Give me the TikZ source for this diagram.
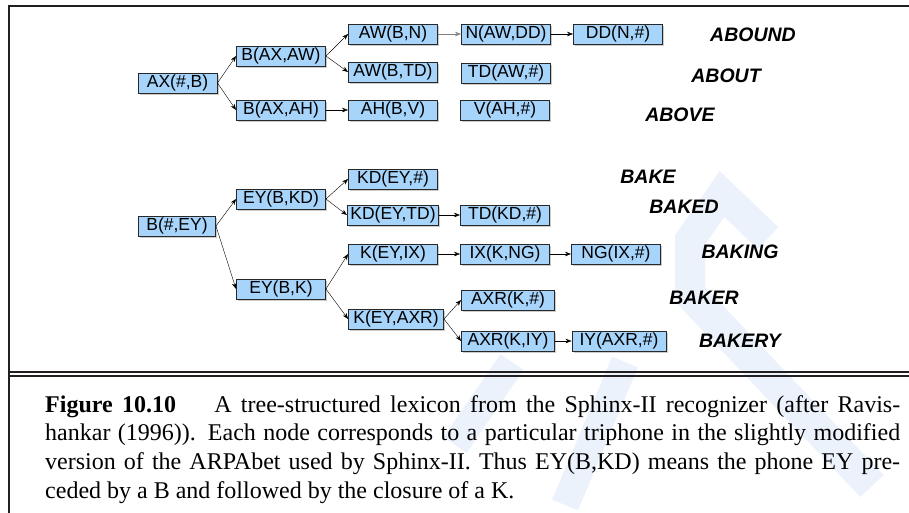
\documentclass[tikz,border=0pt]{standalone}
\usepackage{fontspec}
\setmainfont{Liberation Serif}
\setsansfont{Liberation Sans}
\usetikzlibrary{arrows.meta,shadows}
\definecolor{phonefill}{RGB}{166,212,251}
\definecolor{phoneline}{RGB}{40,40,40}
\definecolor{wmark}{RGB}{236,242,252}
\definecolor{rulecol}{RGB}{35,31,32}

\begin{document}
\begin{tikzpicture}[x=1pt,y=-1pt,>={Stealth[length=6pt,width=4.5pt]},
  phone/.style={draw=phoneline,fill=phonefill,line width=0.9pt,
    minimum height=20pt,minimum width=89pt,inner xsep=3pt,inner ysep=0pt,
    font=\sffamily\fontsize{17.5}{19}\selectfont,
    drop shadow={shadow xshift=1.8pt,shadow yshift=-1.8pt,fill=black!40}},
  word/.style={font=\sffamily\bfseries\itshape\fontsize{19.5}{21}\selectfont},
  capline/.style={anchor=base west,inner sep=0pt,font=\fontsize{24}{28.7}\selectfont}]
  \useasboundingbox (0,0) rectangle (909,513);
  % watermark
  \draw[wmark,line width=30pt] (768,238) -- (722,194) -- (690,240) -- (690,300);
  \draw[wmark,line width=32pt] (688,292) -- (872,486);
  \draw[wmark,line width=28pt] (625,362) -- (565,505);
  \draw[wmark,line width=28pt] (512,362) -- (455,445);
  % frame
  \draw[rulecol,line width=2pt] (9,6) -- (909,6);
  \draw[rulecol,line width=2.5pt] (9,5) -- (9,513);
  \draw[rulecol,line width=2pt] (10,372.2) -- (909,372.2);
  \draw[rulecol,line width=2pt] (10,375.6) -- (909,375.6);
  % ABOUND / ABOUT / ABOVE
  \node[phone,minimum width=79pt] (ax) at (177.5,83) {AX(\#,B)};
  \node[phone] (baw) at (281,56) {B(AX,AW)};
  \node[phone] (bah) at (281,110) {B(AX,AH)};
  \node[phone] (awn) at (393,34) {AW(B,N)};
  \node[phone] (awtd) at (393,72) {AW(B,TD)};
  \node[phone] (ahv) at (393,110) {AH(B,V)};
  \node[phone] (naw) at (506,34) {N(AW,DD)};
  \node[phone] (ddn) at (618,34) {DD(N,\#)};
  \node[phone] (tdaw) at (506,73) {TD(AW,\#)};
  \node[phone] (vah) at (505,110) {V(AH,\#)};
  \node[word] (wabound) at (753,35) {ABOUND};
  \node[word] (wabout) at (726,76) {ABOUT};
  \node[word] (wabove) at (680,115) {ABOVE};
  \draw[->] (ax.east) -- (baw.west);
  \draw[->] (ax.east) -- (bah.west);
  \draw[->] (baw.east) -- (awn.west);
  \draw[->] (baw.east) -- (awtd.west);
  \draw[->] (bah) -- (ahv);
  \draw[->,gray] (awn) -- (naw);
  \draw[->] (naw) -- (ddn);
  % BAKE ... BAKERY
  \node[phone,minimum width=77pt] (bey) at (177,226) {B(\#,EY)};
  \node[phone] (eykd) at (281,199) {EY(B,KD)};
  \node[phone] (eyk) at (281,289) {EY(B,K)};
  \node[phone] (kdey) at (393,179) {KD(EY,\#)};
  \node[phone] (kdtd) at (393,215) {KD(EY,TD)};
  \node[phone] (keyix) at (393,254) {K(EY,IX)};
  \node[phone,minimum width=95pt] (keyaxr) at (396,319) {K(EY,AXR)};
  \node[phone] (tdkd) at (505,215) {TD(KD,\#)};
  \node[phone] (ixk) at (505,254) {IX(K,NG)};
  \node[phone] (ngix) at (616,254) {NG(IX,\#)};
  \node[phone,minimum width=93pt] (axrk) at (508,300) {AXR(K,\#)};
  \node[phone,minimum width=93pt] (axriy) at (508,341) {AXR(K,IY)};
  \node[phone,minimum width=94pt] (iyaxr) at (619,341) {IY(AXR,\#)};
  \node[word] (wbake) at (648,177) {BAKE};
  \node[word] (wbaked) at (684,207) {BAKED};
  \node[word] (wbaking) at (740,252) {BAKING};
  \node[word] (wbaker) at (704,298) {BAKER};
  \node[word] (wbakery) at (740,341) {BAKERY};
  \draw[->] (bey.east) -- (eykd.west);
  \draw[->] (bey.east) -- (eyk.west);
  \draw[->] (eykd.east) -- (kdey.west);
  \draw[->] (eykd.east) -- (kdtd.west);
  \draw[->] (eyk.east) -- (keyix.west);
  \draw[->] (eyk.east) -- (keyaxr.west);
  \draw[->] (kdtd) -- (tdkd);
  \draw[->] (keyix) -- (ixk);
  \draw[->] (ixk) -- (ngix);
  \draw[->] (keyaxr.east) -- (axrk.west);
  \draw[->] (keyaxr.east) -- (axriy.west);
  \draw[->] (axriy) -- (iyaxr);
  % caption
  \node[capline] (cap1) at (45,412) {\makebox[855pt][s]{\textbf{Figure 10.10}\hspace{1.6em}A tree-structured lexicon from the Sphinx-II recognizer (after Ravis-}};
  \node[capline] (cap2) at (45,440.7) {\makebox[855pt][s]{hankar (1996)). Each node corresponds to a particular triphone in the slightly modified}};
  \node[capline] (cap3) at (45,469.4) {\makebox[855pt][s]{version of the ARPAbet used by Sphinx-II. Thus EY(B,KD) means the phone EY pre-}};
  \node[capline] (cap4) at (45,498) {ceded by a B and followed by the closure of a K.};
\end{tikzpicture}
\end{document}
